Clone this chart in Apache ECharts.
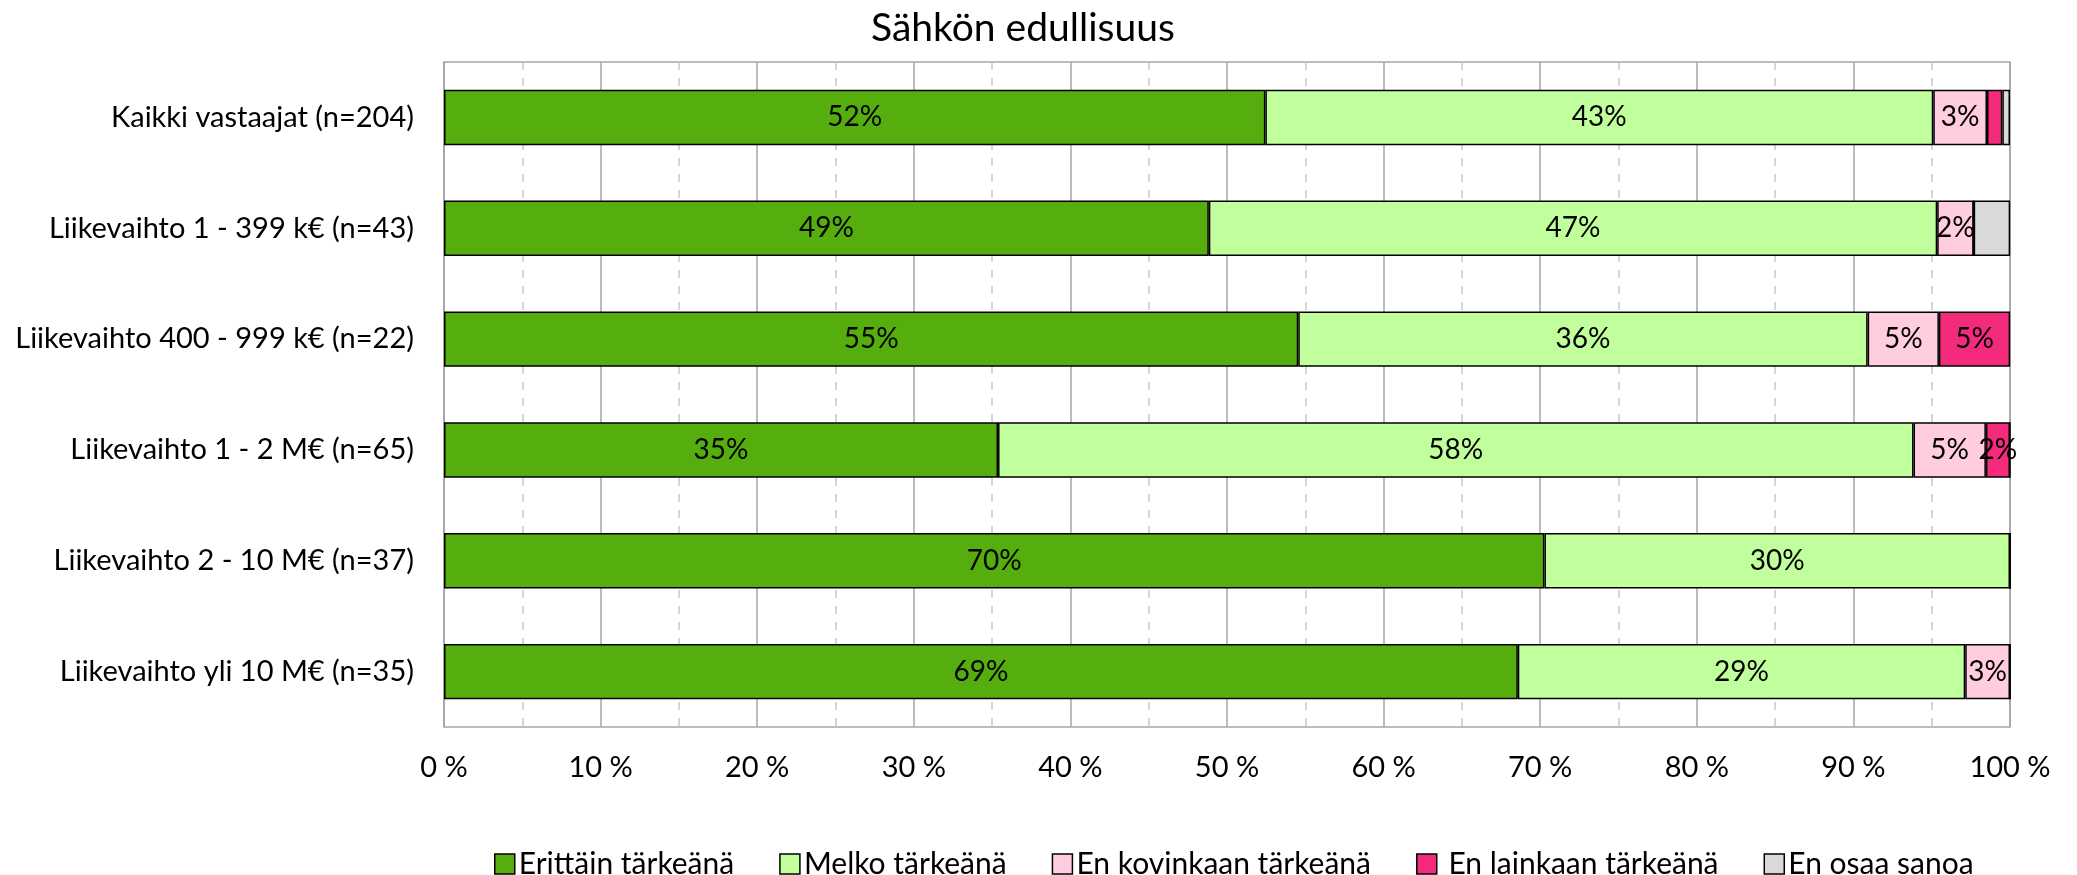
<!DOCTYPE html>
<html>
<head>
<meta charset="utf-8">
<script src="https://cdn.jsdelivr.net/npm/echarts@6/dist/echarts.min.js"></script>
<style>
    html, body { margin: 0; padding: 0; background: #fff; }
    #chart { width: 2077px; height: 875px; }
</style>
</head>
<body>
<div id="chart"></div>
<script>
// shares in percent
const categories = [
    'Kaikki vastaajat (n=204)',
    'Liikevaihto 1 - 399 k€ (n=43)',
    'Liikevaihto 400 - 999 k€ (n=22)',
    'Liikevaihto 1 - 2 M€ (n=65)',
    'Liikevaihto 2 - 10 M€ (n=37)',
    'Liikevaihto yli 10 M€ (n=35)'
];
const erittain = [52.45, 48.84, 54.55, 35.38, 70.27, 68.57];
const melko = [42.65, 46.51, 36.36, 58.46, 29.73, 28.57];
const kovinkaan = [3.43, 2.33, 4.55, 4.62, 0, 2.86];
const lainkaan = [0.98, 0, 4.55, 1.54, 0, 0];
const eiOsaa = [0.49, 2.33, 0, 0, 0, 0];
const xTicks = [0, 10, 20, 30, 40, 50, 60, 70, 80, 90, 100];

const font = 'Lato';
let chart = echarts.init(document.getElementById('chart'));

function series(name, data, color, labels) {
    return {
        name: name,
        type: 'bar',
        stack: 'all',
        barWidth: '50%',
        data: data,
        itemStyle: { color: color, borderColor: '#000', borderWidth: 1.5 },
        label: {
            show: labels,
            position: 'inside',
            color: '#000',
            fontFamily: font,
            fontSize: 28,
            formatter: function (p) {
                return p.value >= 1.5 ? Math.round(p.value) + '%' : '';
            }
        }
    };
}

const option = {
    animation: false,
    title: {
        text: 'Sähkön edullisuus',
        left: 866,
        top: 4,
        textStyle: { fontFamily: font, fontSize: 39, fontWeight: 'normal', color: '#000' }
    },
    legend: {
        left: 489,
        top: 844,
        itemWidth: 20,
        itemHeight: 20,
        itemGap: 45,
        icon: 'rect',
        textStyle: { fontFamily: font, fontSize: 30, color: '#000', padding: [0, 0, 0, -1] },
        itemStyle: { borderColor: '#000', borderWidth: 1.5 }
    },
    grid: {
        left: 444,
        right: 67,
        top: 62,
        bottom: 148,
        show: true,
        borderColor: '#a6a6a6',
        borderWidth: 1.5
    },
    xAxis: {
        type: 'value',
        min: 0,
        max: 100,
        interval: 10,
        axisLine: { show: false },
        axisTick: { show: false },
        axisLabel: {
            fontFamily: font, fontSize: 29, color: '#000', margin: 26,
            formatter: function (v) { return xTicks.indexOf(v) >= 0 ? v + ' %' : ''; }
        },
        splitLine: { lineStyle: { color: '#a6a6a6', width: 1.5 } },
        minorTick: { show: false, splitNumber: 2 },
        minorSplitLine: { show: true, lineStyle: { color: '#c8c8c8', width: 1.5, type: [8, 8] } }
    },
    yAxis: {
        type: 'category',
        data: categories,
        inverse: true,
        axisLine: { show: true, lineStyle: { color: '#a6a6a6', width: 1.5 } },
        axisTick: { show: false },
        axisLabel: { fontFamily: font, fontSize: 29, color: '#000', margin: 30 }
    },
    series: [
        series('Erittäin tärkeänä', erittain, '#56ae0e', true),
        series('Melko tärkeänä', melko, '#c0ff9c', true),
        series('En kovinkaan tärkeänä', kovinkaan, '#ffcce0', true),
        series(' En lainkaan tärkeänä', lainkaan, '#f42a7d', true),
        series('En osaa sanoa', eiOsaa, '#d9d9d9', false)
    ]
};

chart.setOption(option);

window.addEventListener('resize', function () {
    chart.resize();
});
</script>
</body>
</html>
